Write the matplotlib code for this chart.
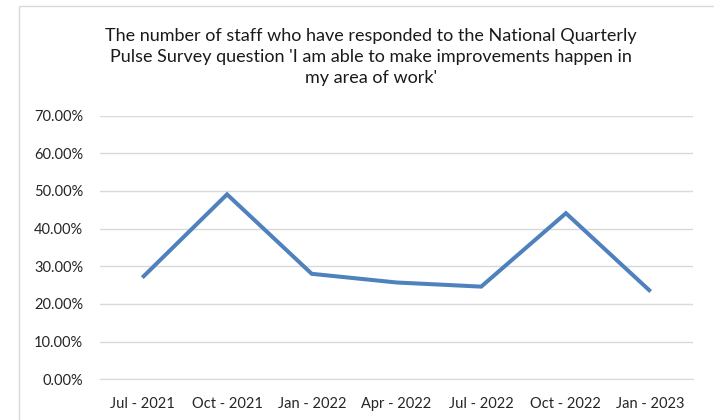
import matplotlib.pyplot as plt
from matplotlib.patches import Rectangle
from matplotlib.ticker import FuncFormatter

# quarterly pulse survey results (share of staff answering positively)
quarters = ['Jul - 2021', 'Oct - 2021', 'Jan - 2022', 'Apr - 2022',
            'Jul - 2022', 'Oct - 2022', 'Jan - 2023']
responses = [27.0, 49.1, 28.0, 25.7, 24.6, 44.1, 23.3]

title = ("The number of staff who have responded to the National Quarterly\n"
         "Pulse Survey question 'I am able to make improvements happen in\n"
         "my area of work'")

plt.rcParams['font.family'] = ['Lato', 'DejaVu Sans']

fig = plt.figure(figsize=(7.14, 4.2), dpi=100)
ax = fig.add_axes([0.140, 0.097, 0.8306, 0.6276])

# light chart-area frame running off the right and bottom edges
fig.patches.append(Rectangle((19 / 714, -0.1), 1.2, 1.1 - 6 / 420,
                             transform=fig.transFigure, fill=False,
                             edgecolor='#d9d9d9', lw=1.0))

x = range(len(quarters))
ax.plot(x, responses, color='#4f81bd', lw=2.9, solid_joinstyle='miter',
        solid_capstyle='butt', zorder=3)

ax.set_xlim(-0.5, len(quarters) - 0.5)
ax.set_ylim(0, 70)
ax.set_yticks(range(0, 71, 10))
ax.yaxis.set_major_formatter(FuncFormatter(lambda v, _: f'{v:.2f}%'))
ax.set_xticks(list(x))
ax.set_xticklabels(quarters)

ax.grid(axis='y', color='#d9d9d9', lw=1.0)
ax.set_axisbelow(True)
for s in ax.spines.values():
    s.set_visible(False)
ax.spines['bottom'].set_visible(True)
ax.spines['bottom'].set_color('#d9d9d9')
ax.tick_params(length=0, labelsize=10.5, colors='#262626')
ax.tick_params(axis='y', pad=12)
ax.tick_params(axis='x', pad=12.5)

fig.text(0.52, 0.864, title, ha='center', va='center', fontsize=13,
         color='#1a1a1a', linespacing=1.38)

fig.savefig('out.png', dpi=100)
